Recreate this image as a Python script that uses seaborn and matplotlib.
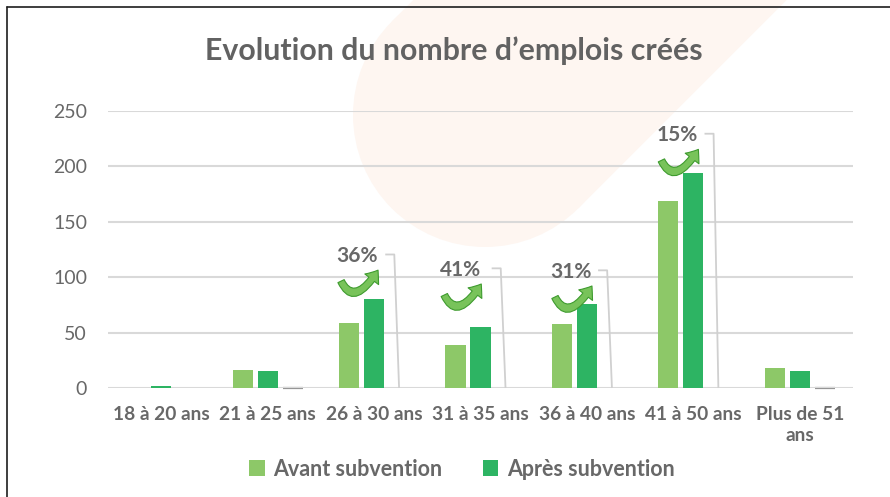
import numpy as np
import pandas as pd
import seaborn as sns
import matplotlib.pyplot as plt
from matplotlib.patches import FancyArrowPatch, Ellipse, Polygon
from matplotlib.lines import Line2D
from matplotlib.path import Path

# ---- data ----
tranches = ["18 à 20 ans", "21 à 25 ans", "26 à 30 ans", "31 à 35 ans",
            "36 à 40 ans", "41 à 50 ans", "Plus de 51\nans"]
avant = [0, 16, 59, 39, 58, 169, 18]
apres = [2, 15, 80, 55, 76, 194, 15]
evolution = [np.nan, -0.06, 0.36, 0.41, 0.31, 0.15, -0.17]
series = ["Avant subvention", "Après subvention", "Évolution"]

# which evolution values get a label, and where the label sits (x, y in data units)
labelled = [2, 3, 4, 5]
label_pos = [(1.84, 119), (2.81, 106.5), (3.85, 104.7), (4.85, 228)]

colors = ["#8DC868", "#2DB463", "#969696"]
text_grey = "#686868"

sns.set_style("white")
plt.rcParams["font.family"] = ["Lato", "DejaVu Sans"]

W, H = 890, 497
fig = plt.figure(figsize=(W / 100, H / 100), dpi=100)
fig.patch.set_facecolor("white")


def fx(px):
    return px / W


def fy(py_top):
    return (H - py_top) / H


# faint peach band in the background
cx, cy, r = 485, H - 115, 132
u = np.array([1, 1]) / np.sqrt(2)
v = np.array([-1, 1]) / np.sqrt(2)
c = np.array([cx, cy])
band = [c + r * v, c + r * v + 900 * u, c - r * v + 900 * u, c - r * v]
peach = "#FEF6F1"
fig.add_artist(Polygon([(p[0] / W, p[1] / H) for p in band], closed=True,
                       transform=fig.transFigure, fc=peach, ec="none", zorder=0))
fig.add_artist(Ellipse((cx / W, cy / H), 2 * r / W, 2 * r / H,
                       transform=fig.transFigure, fc=peach, ec="none", zorder=0))

# frame lines (top and left)
fig.add_artist(Line2D([fx(7), 1], [fy(7), fy(7)], transform=fig.transFigure,
                      color="#1E1E1E", lw=1.2, zorder=5))
fig.add_artist(Line2D([fx(7), fx(7)], [0, fy(7)], transform=fig.transFigure,
                      color="#1E1E1E", lw=1.2, zorder=5))

ax_w_px, ax_h_px = 853 - 108, 388 - 111
ax = fig.add_axes([fx(108), fy(388), ax_w_px / W, ax_h_px / H])
ax.patch.set_alpha(0)

df = pd.DataFrame({
    "tranche": tranches * 3,
    "serie": np.repeat(series, len(tranches)),
    "valeur": avant + apres + evolution,
})

sns.barplot(data=df, x="tranche", y="valeur", hue="serie", order=tranches,
            hue_order=series, palette=colors, width=0.705, gap=0.19,
            errorbar=None, legend=False, saturation=1, linewidth=0, ax=ax)

for cont in ax.containers:
    for p in cont:
        p.set_clip_on(False)
# evolution bars are tiny: sit them under the grid, outline the negative ones
for p in ax.containers[2]:
    p.set_zorder(0.4)
    if p.get_height() < 0:
        p.set_edgecolor(colors[2])
        p.set_linewidth(1.6)

ax.set_xlim(-0.5, len(tranches) - 0.5)
ax.set_ylim(0, 250)
ax.set_yticks(range(0, 251, 50))
ax.set_axisbelow(True)
ax.yaxis.grid(True, color="#D9D9D9", lw=1.5, zorder=0.5)
ax.xaxis.grid(False)
for s in ax.spines.values():
    s.set_visible(False)
ax.set_xlabel("")
ax.set_ylabel("")
ax.tick_params(axis="y", length=0, pad=15, labelsize=14, labelcolor=text_grey)
ax.tick_params(axis="x", length=0, pad=13, labelsize=13.8, labelcolor=text_grey)
for t in ax.get_xticklabels():
    t.set_fontweight("bold")
    t.set_linespacing(1.3)
    t.set_verticalalignment("top")

# pixel offsets -> data offsets
px_x = (len(tranches)) / ax_w_px
px_y = 250 / ax_h_px

# evolution labels with leader lines and curved arrows
offset = 0.235
for i, (lx, ly) in zip(labelled, label_pos):
    bx = i + offset
    yh = ly + 1.5
    ax.plot([bx - 0.13, bx - 0.045, bx], [yh, yh, 0], color="#D0D0D0",
            lw=1.3, zorder=1, solid_capstyle="butt", clip_on=False)
    ax.text(lx, ly, f"{evolution[i] * 100:.0f}%", ha="center", va="center",
            fontsize=15, fontweight="bold", color=text_grey, zorder=4)
    pts = [(lx - 16 * px_x, ly - 25 * px_y),
           (lx - 3 * px_x, ly - 52 * px_y),
           (lx + 21 * px_x, ly - 14 * px_y)]
    curve = Path(pts, [Path.MOVETO, Path.CURVE3, Path.CURVE3])
    arr = FancyArrowPatch(path=curve,
                          arrowstyle="simple,head_length=0.8,head_width=1.25,tail_width=0.5",
                          mutation_scale=10, fc="#78C35A", ec="#3E9B2E",
                          lw=0.8, zorder=4, clip_on=False)
    ax.add_patch(arr)

fig.text(454 / W, fy(51), "Evolution du nombre d’emplois créés", ha="center",
         va="center", fontsize=21.8, fontweight="bold", color="#626262")

handles = [plt.Rectangle((0, 0), 1, 1, fc=colors[0], ec="none"),
           plt.Rectangle((0, 0), 1, 1, fc=colors[1], ec="none")]
fig.legend(handles, series[:2], loc="center", bbox_to_anchor=(462 / W, fy(469)),
           ncol=2, frameon=False, handlelength=0.7, handleheight=0.7,
           handletextpad=0.4, columnspacing=1.9,
           prop={"size": 15.5, "weight": "bold"}, labelcolor=text_grey)

fig.savefig("out.png", dpi=100)
